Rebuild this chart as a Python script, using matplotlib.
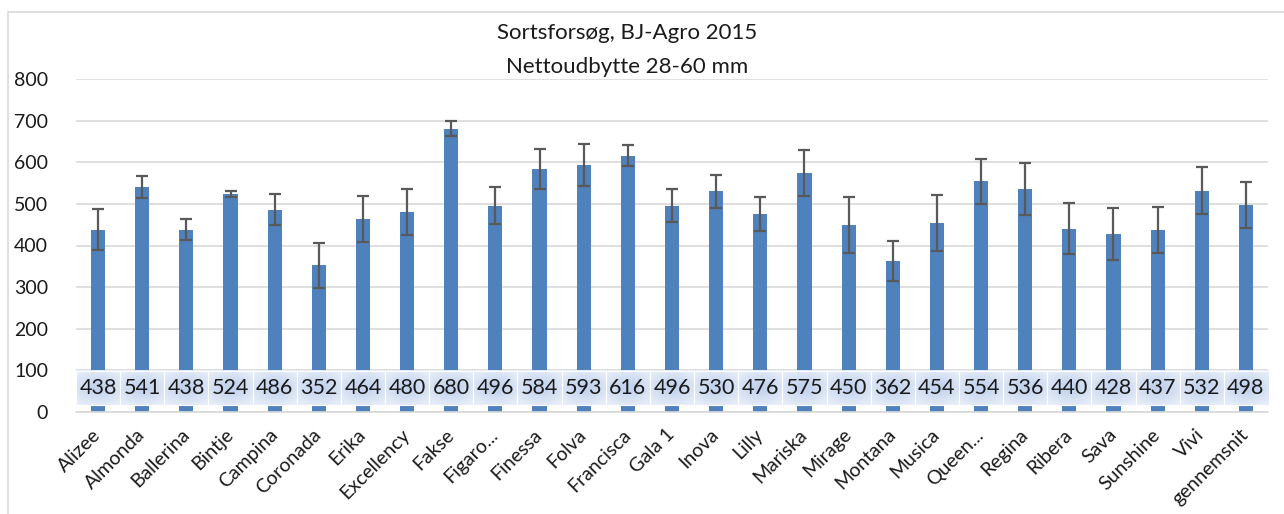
import numpy as np
import matplotlib
matplotlib.use("Agg")
import matplotlib.pyplot as plt
import matplotlib.transforms as mtransforms
from matplotlib.colors import LinearSegmentedColormap
from matplotlib.patches import Rectangle

plt.rcParams["font.family"] = ["Lato", "DejaVu Sans"]

# data
sorts = ["Alizee", "Almonda", "Ballerina", "Bintje", "Campina", "Coronada", "Erika",
         "Excellency", "Fakse", "Figaro...", "Finessa", "Folva", "Francisca", "Gala 1",
         "Inova", "Lilly", "Mariska", "Mirage", "Montana", "Musica", "Queen...",
         "Regina", "Ribera", "Sava", "Sunshine", "Vivi", "gennemsnit"]
yield_kg = [438, 541, 438, 524, 486, 352, 464, 480, 680, 496, 584, 593, 616, 496,
            530, 476, 575, 450, 362, 454, 554, 536, 440, 428, 437, 532, 498]
err_kg = [50, 27, 25, 8, 37, 55, 56, 55, 18, 45, 49, 51, 25, 40,
          40, 40, 55, 67, 48, 68, 55, 62, 61, 63, 56, 57, 55]

W, H = 1284, 514
fig = plt.figure(figsize=(W / 100, H / 100), dpi=100)
ax = fig.add_axes([76 / W, 102 / H, (1268 - 76) / W, (435 - 102) / H])

x = np.arange(len(sorts))
ax.bar(x, yield_kg, width=0.32, color="#4f81bd", zorder=2)
ax.errorbar(x, yield_kg, yerr=err_kg, fmt="none", ecolor="#595959",
            elinewidth=1.6, capsize=4.5, capthick=1.6, zorder=4)

# data table band with soft blue cells
cmap = LinearSegmentedColormap.from_list("cell", ["#c4d4ee", "#e6edf8"])
gx, gy = np.meshgrid(np.linspace(-1, 1, 60), np.linspace(-1, 1, 30))
grad = np.sqrt(gx ** 2 * 0.7 + gy ** 2)
for i, v in enumerate(yield_kg):
    ax.imshow(grad, extent=[i - 0.5, i + 0.5, 16, 98], cmap=cmap, vmin=0.2, vmax=1.15,
              aspect="auto", zorder=3, interpolation="bilinear")
    ax.add_patch(Rectangle((i - 0.5, 16), 1, 82, fill=False, ec="white", lw=0.8, zorder=3))
    ax.text(i, 57, str(v), ha="center", va="center", fontsize=15.5, color="#1a1a1a", zorder=5)

ax.set_xlim(-0.5, len(sorts) - 0.5)
ax.set_ylim(0, 800)
ax.set_yticks(range(0, 801, 100))
ax.yaxis.grid(True, color="#d9d9d9", lw=1.2, zorder=0)
ax.set_axisbelow(True)
for s in ["left", "right", "top"]:
    ax.spines[s].set_visible(False)
ax.spines["bottom"].set_color("#d9d9d9")
ax.spines["bottom"].set_linewidth(1.2)
ax.tick_params(axis="y", length=0, labelsize=14, pad=20, labelcolor="#1a1a1a")
ax.tick_params(axis="x", length=0, pad=10)
ax.set_xticks(x)
ax.set_xticklabels(sorts, rotation=45, ha="right", rotation_mode="anchor",
                   fontsize=14, color="#1a1a1a")
shift = mtransforms.ScaledTranslation(-6 / 100, 0, fig.dpi_scale_trans)
for lab in ax.get_xticklabels():
    lab.set_transform(lab.get_transform() + shift)

fig.text(627 / W, 1 - 33 / H, "Sortsforsøg, BJ-Agro 2015", ha="center", va="center",
         fontsize=16, color="#1a1a1a")
fig.text(627 / W, 1 - 67 / H, "Nettoudbytte 28-60 mm", ha="center", va="center",
         fontsize=16, color="#1a1a1a")

# chart border
fig.add_artist(Rectangle((8 / W, -0.05), 1.2, 1 - 12 / H + 0.05, transform=fig.transFigure,
                         fill=False, ec="#d9d9d9", lw=1.2))

fig.savefig("out.png", dpi=100, facecolor="white")
